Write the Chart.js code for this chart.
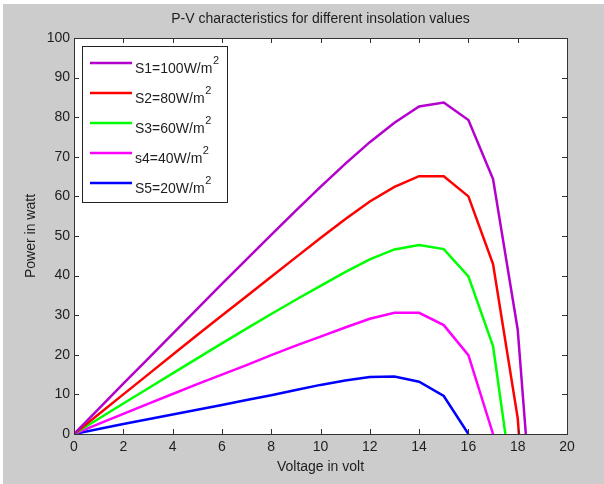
<!DOCTYPE html>
<html>
<head>
<meta charset="utf-8">
<title>P-V characteristics</title>
<script src="https://cdn.jsdelivr.net/npm/chart.js@4.4.0/dist/chart.umd.min.js"></script>
<style>
html,body{margin:0;padding:0;background:#fff}
#box{position:relative;width:604px;height:484px}
</style>
</head>
<body>
<div id="box"><canvas id="pv"></canvas></div>
<script>
// values (voltage in V, power in W)
var labels = ["S1=100W/m²", "S2=80W/m²", "S3=60W/m²", "s4=40W/m²", "S5=20W/m²"]
var colors = ["#b400cc", "#ff0000", "#00ff00", "#ff00ff", "#0000ff"]

var voltsS1 = [0,1,2,3,4,5,6,7,8,9,10,11,12,13,14,15,16,17,18,18.33]
var powerS1 = [0,6.35,12.7,19.0,25.3,31.6,37.9,44.1,50.3,56.4,62.4,68.2,73.7,78.6,82.7,83.7,79.3,64.4,26.4,0]

var voltsS2 = [0,1,2,3,4,5,6,7,8,9,10,11,12,13,14,15,16,17,18,18.05]
var powerS2 = [0,5.0,10.0,15.0,20.0,25.0,29.9,34.8,39.7,44.6,49.5,54.2,58.7,62.4,65.1,65.1,60.0,42.9,4.0,0]

var voltsS3 = [0,1,2,3,4,5,6,7,8,9,10,11,12,13,14,15,16,17,17.5]
var powerS3 = [0,3.85,7.7,11.5,15.3,19.1,22.9,26.6,30.3,33.9,37.4,40.9,44.1,46.6,47.7,46.7,39.8,22.2,0]

var voltsS4 = [0,1,2,3,4,5,6,7,8,9,10,11,12,13,14,15,16,17]
var powerS4 = [0,2.55,5.1,7.6,10.1,12.6,15.0,17.4,19.9,22.3,24.6,26.9,29.1,30.6,30.6,27.5,19.9,0]

var voltsS5 = [0,1,2,3,4,5,6,7,8,9,10,11,12,13,14,15,16]
var powerS5 = [0,1.25,2.5,3.7,4.9,6.1,7.3,8.6,9.8,11.1,12.4,13.5,14.4,14.5,13.2,9.6,0]

var xTicks = [0,2,4,6,8,10,12,14,16,18,20]
var yTicks = [0,10,20,30,40,50,60,70,80,90,100]

var titleText = "P-V characteristics for different insolation values"
var xTitle = "Voltage in volt"
var yTitle = "Power in watt"

var allVolts = [voltsS1, voltsS2, voltsS3, voltsS4, voltsS5]
var allPower = [powerS1, powerS2, powerS3, powerS4, powerS5]

var FONT = "'Liberation Sans', Arial, Helvetica, sans-serif"
var INK = "#1e1e1e"

function toPoints(xs, ys){
    var pts = []
    for (var i = 0; i < xs.length; i++) pts.push({x: xs[i], y: ys[i]})
    return pts
}

var datasets = []
for (var i = 0; i < labels.length; i++){
    datasets.push({
        label: labels[i],
        data: toPoints(allVolts[i], allPower[i]),
        borderColor: colors[i],
        backgroundColor: colors[i],
        borderWidth: 2.5,
        pointRadius: 0,
        tension: 0,
        fill: false
    })
}

// grey figure background + white axes area
var backdrop = {
    id: "backdrop",
    beforeDraw: function(chart){
        var c = chart.ctx, a = chart.chartArea
        c.save()
        c.fillStyle = "#ffffff"
        c.fillRect(0, 0, chart.width, chart.height)
        c.fillStyle = "#cccccc"
        c.fillRect(3, 4, chart.width - 3, chart.height - 4)
        c.fillStyle = "#ffffff"
        c.fillRect(a.left, a.top, a.right - a.left, a.bottom - a.top)
        c.restore()
    }
}

// matlab style box with inward ticks, title and legend
var matlabBox = {
    id: "matlabBox",
    afterDraw: function(chart){
        var c = chart.ctx, a = chart.chartArea
        var xs = chart.scales.x, ys = chart.scales.y
        c.save()
        c.strokeStyle = "#333333"
        c.lineWidth = 1
        c.beginPath()
        xTicks.forEach(function(v){
            var px = Math.round(xs.getPixelForValue(v)) + 0.5
            c.moveTo(px, a.bottom); c.lineTo(px, a.bottom - 5)
            c.moveTo(px, a.top); c.lineTo(px, a.top + 5)
        })
        yTicks.forEach(function(v){
            var py = Math.round(ys.getPixelForValue(v)) + 0.5
            c.moveTo(a.left, py); c.lineTo(a.left + 5, py)
            c.moveTo(a.right, py); c.lineTo(a.right - 5, py)
        })
        c.stroke()
        c.strokeRect(Math.round(a.left) + 0.5, Math.round(a.top) + 0.5,
            Math.round(a.right - a.left), Math.round(a.bottom - a.top))

        // title centred over the axes
        c.fillStyle = INK
        c.font = "14px " + FONT
        c.textAlign = "center"
        c.textBaseline = "middle"
        c.fillText(titleText, (a.left + a.right) / 2, 19)

        // legend
        var lx = a.left + 8, ly = a.top + 8, lw = 145, lh = 156
        c.fillStyle = "#ffffff"
        c.fillRect(lx, ly, lw, lh)
        c.strokeStyle = "#222222"
        c.strokeRect(Math.round(lx) + 0.5, Math.round(ly) + 0.5, lw, lh)
        chart.data.datasets.forEach(function(ds, k){
            var ry = ly + 17 + k * 30
            c.strokeStyle = ds.borderColor
            c.lineWidth = 2.5
            c.beginPath()
            c.moveTo(lx + 8, ry); c.lineTo(lx + 50, ry)
            c.stroke()
            var txt = ds.label, sup = ""
            if (txt.slice(-1) == "²"){ sup = "2"; txt = txt.slice(0, -1) }
            c.fillStyle = INK
            c.textAlign = "left"
            c.textBaseline = "alphabetic"
            c.font = "14px " + FONT
            c.fillText(txt, lx + 53, ry + 10)
            if (sup){
                var w = c.measureText(txt).width
                c.font = "11px " + FONT
                c.fillText(sup, lx + 53 + w + 0.5, ry + 1)
            }
        })
        c.restore()
    }
}

var config = {
    type: "line",
    data: { datasets: datasets },
    options: {
        responsive: true,
        maintainAspectRatio: false,
        animation: false,
        layout: { padding: { top: 38, right: 37, left: 0, bottom: 0 } },
        scales: {
            x: {
                type: "linear",
                min: 0, max: 20,
                afterFit: function(s){ s.height = 50 },
                afterBuildTicks: function(s){ s.ticks = xTicks.map(function(v){ return {value: v} }) },
                grid: { display: false, drawTicks: false },
                border: { display: false },
                ticks: { padding: 5, color: INK, font: { family: FONT, size: 14 }, maxRotation: 0, autoSkip: false },
                title: { display: true, text: xTitle, color: INK, font: { family: FONT, size: 14 }, padding: { top: 0, bottom: 8 } }
            },
            y: {
                type: "linear",
                min: 0, max: 100,
                afterFit: function(s){ s.width = 74 },
                afterBuildTicks: function(s){ s.ticks = yTicks.map(function(v){ return {value: v} }) },
                grid: { display: false, drawTicks: false },
                border: { display: false },
                ticks: { padding: 4, color: INK, font: { family: FONT, size: 14 }, autoSkip: false },
                title: { display: true, text: yTitle, color: INK, font: { family: FONT, size: 14 }, padding: { top: 23, bottom: 0 } }
            }
        },
        plugins: {
            legend: { display: false },
            title: { display: false },
            tooltip: { enabled: false }
        }
    },
    plugins: [backdrop, matlabBox]
}

new Chart(document.getElementById("pv"), config)
</script>
</body>
</html>
